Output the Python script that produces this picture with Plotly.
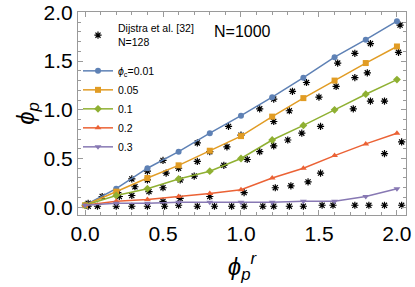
import plotly.graph_objects as go

# Model curves (phi_p vs phi_p^r) for N=1000
x_model = [0.0, 0.2, 0.4, 0.6, 0.8, 1.0, 1.2, 1.4, 1.6, 1.8, 2.0]
y_001 = [0.02, 0.19, 0.40, 0.57, 0.76, 0.94, 1.13, 1.33, 1.54, 1.72, 1.91]
y_005 = [0.02, 0.16, 0.30, 0.43, 0.58, 0.73, 0.93, 1.12, 1.30, 1.48, 1.65]
y_01 = [0.02, 0.12, 0.19, 0.29, 0.37, 0.50, 0.69, 0.84, 1.00, 1.16, 1.31]
y_02 = [0.02, 0.06, 0.08, 0.11, 0.14, 0.18, 0.30, 0.40, 0.53, 0.65, 0.76]
y_03 = [0.02, 0.04, 0.04, 0.05, 0.05, 0.05, 0.05, 0.06, 0.06, 0.11, 0.19]

series_labels = ["<i>ϕ</i><sub>c</sub>=0.01", "0.05", "0.1", "0.2", "0.3"]
series_values = [y_001, y_005, y_01, y_02, y_03]
colors = ["#5E81B5", "#E19C24", "#8FB032", "#EB6235", "#8778B3"]
symbols = ["circle", "square", "diamond", "triangle-up", "triangle-down"]

# Dijkstra et al. [32], N=128 (stars)
dij_x = [0.11, 0.22, 0.30, 0.40, 0.50, 0.72, 0.92, 1.12, 1.33, 1.42, 1.62, 1.73, 1.83, 2.02,
         0.32, 0.40, 0.52, 0.60, 0.72, 0.80, 0.91, 1.00, 1.21, 1.21, 1.31, 1.50, 1.61, 1.73, 1.81, 2.01,
         0.21, 0.30, 0.41, 0.50, 0.61, 0.70, 0.89, 1.04, 1.12, 1.21, 1.30, 1.39, 1.51, 1.72, 1.83, 1.92,
         0.50, 0.61, 0.80, 1.02, 1.22, 1.32, 1.43, 1.51, 1.92, 2.03,
         0.02, 0.08, 0.20, 0.30, 0.40, 0.51, 0.60, 0.72, 0.83, 0.94, 1.02, 1.14, 1.21, 1.31, 1.40,
         1.52, 1.59, 1.73, 1.82, 1.92, 2.03, 0.02]
dij_y = [0.11, 0.11, 0.29, 0.37, 0.48, 0.66, 0.83, 1.01, 1.19, 1.28, 1.48, 1.58, 1.68, 1.87,
         0.21, 0.28, 0.35, 0.40, 0.47, 0.57, 0.62, 0.74, 0.88, 1.11, 0.99, 1.13, 1.24, 1.33, 1.38, 1.59,
         0.15, 0.12, 0.16, 0.20, 0.28, 0.32, 0.43, 0.49, 0.57, 0.63, 0.69, 0.76, 0.83, 1.01, 1.09, 1.09,
         0.06, 0.09, 0.11, 0.15, 0.20, 0.22, 0.26, 0.35, 0.55, 0.67,
         0.01, 0.01, 0.01, 0.01, 0.01, 0.01, 0.02, 0.01, 0.01, 0.01, 0.01, 0.01, 0.01, 0.01, 0.01,
         0.02, 0.02, 0.02, 0.02, 0.02, 0.02, 0.04]

fig = go.Figure()
fig.add_trace(go.Scatter(
    x=dij_x, y=dij_y, mode="markers", name="Dijstra et al. [32]<br>N=128",
    legendgroup="dij",
    marker=dict(symbol="asterisk-open", size=6, color="black", line=dict(color="black", width=1.2)),
))
for lab, vals, c, s in zip(series_labels, series_values, colors, symbols):
    fig.add_trace(go.Scatter(
        x=x_model, y=vals, mode="lines+markers", name=lab, legendgroup="model",
        line=dict(color=c, width=1.5),
        marker=dict(symbol=s, size=6, color=c),
    ))

fig.add_annotation(x=1.01, y=1.8, xref="x", yref="y", text="N=1000", showarrow=False,
                   font=dict(size=16, color="black"))

axis_common = dict(
    showline=True, linecolor="#9a9a9a", linewidth=1, mirror="allticks",
    ticks="inside", ticklen=5, tickcolor="#9a9a9a", tickwidth=1,
    showgrid=False, zeroline=False, automargin=False,
    tickfont=dict(size=21, color="black"),
    minor=dict(ticks="inside", ticklen=3, tickcolor="#9a9a9a", dtick=0.1, showgrid=False),
)
fig.update_xaxes(range=[-0.045, 2.058], tickvals=[0, 0.5, 1.0, 1.5, 2.0],
                 ticktext=["0.0", "0.5", "1.0", "1.5", "2.0"],
                 title=dict(text="<i>ϕ</i><sub><i>p</i></sub><sup><i>r</i></sup>", font=dict(size=24, color="black"), standoff=13),
                 **axis_common)
fig.update_yaxes(range=[-0.08, 2.004], tickvals=[0, 0.5, 1.0, 1.5, 2.0],
                 ticktext=["0.0", "0.5", "1.0", "1.5", "2.0"],
                 title=dict(text="<i>ϕ</i><sub><i>p</i></sub>", font=dict(size=24, color="black"), standoff=2),
                 **axis_common)

fig.update_layout(
    width=415, height=287,
    margin=dict(l=78, r=9, t=12, b=72, autoexpand=False),
    paper_bgcolor="white", plot_bgcolor="white",
    font=dict(family="Liberation Sans, Arial, sans-serif", color="black"),
    showlegend=True,
    legend=dict(x=0, y=0.985, xanchor="left", yanchor="top", bgcolor="rgba(0,0,0,0)",
                font=dict(size=10.5, color="black"), tracegroupgap=11, itemwidth=30,
                maxheight=260),
)

fig.write_html("out.html", config={"displayModeBar": False},
               post_script="document.body.style.margin='0px';document.body.style.overflow='hidden';")
